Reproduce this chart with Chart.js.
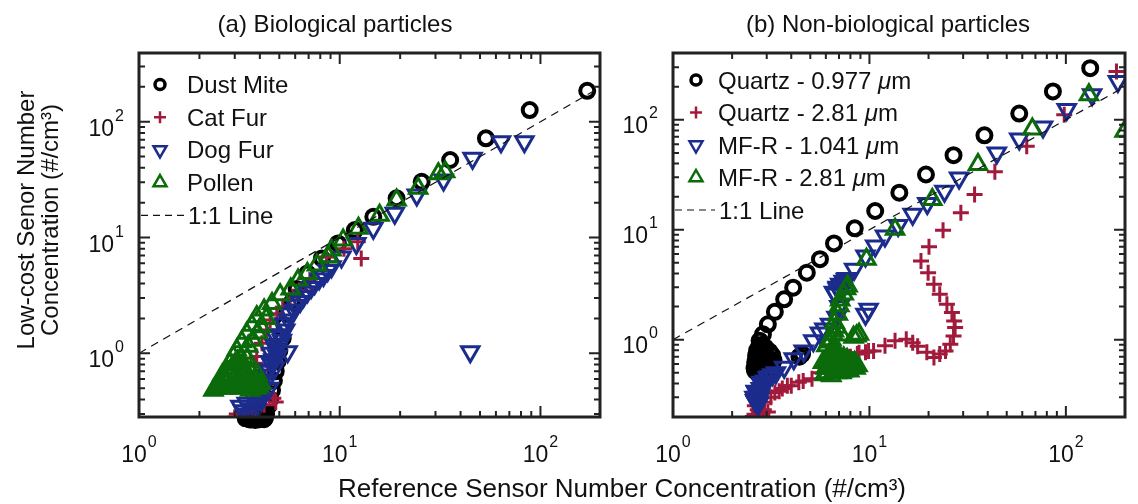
<!DOCTYPE html>
<html>
<head>
<meta charset="utf-8">
<script src="https://cdn.jsdelivr.net/npm/chart.js@4.4.0/dist/chart.umd.min.js"></script>
<style>
  html, body { margin: 0; padding: 0; background: #fff; }
  #wrap { position: relative; width: 1138px; height: 504px; }
  #wrap canvas { position: absolute; left: 0; top: 0; }
</style>
</head>
<body>
<div id="wrap">
  <canvas id="bioChart" width="1138" height="504"></canvas>
  <canvas id="nonBioChart" width="1138" height="504"></canvas>
</div>
<script>
// Low-cost sensor vs reference sensor number concentration (#/cm3)

// (a) biological particles
const dustMiteX = [3.4, 3.5, 3.55, 3.6, 3.65, 3.7, 3.75, 3.8, 3.85, 3.9, 3.95, 4.0, 4.05, 4.1, 4.15, 4.2, 4.25, 4.3, 3.6, 3.8, 4.0, 4.2, 3.7, 3.9, 4.4, 4.5, 4.6, 4.7, 4.8, 4.9, 5.0, 5.2, 5.3, 5.45, 5.8, 6.1, 6.9, 8.15, 9.8, 11.9, 14.7, 19.2, 25.6, 35.5, 53.5, 88.4, 171];
const dustMiteY = [0.275, 0.28, 0.27, 0.29, 0.275, 0.28, 0.27, 0.28, 0.275, 0.285, 0.27, 0.29, 0.28, 0.3, 0.285, 0.29, 0.28, 0.3, 0.268, 0.266, 0.27, 0.27, 0.31, 0.31, 0.35, 0.40, 0.48, 0.58, 0.70, 0.85, 1.05, 1.35, 1.75, 2.2, 2.8, 3.6, 4.9, 6.6, 8.9, 11.6, 15.1, 21.8, 30.3, 46.7, 71.9, 126, 185];

const catFurX = [3.0, 3.07, 3.3, 3.5, 3.8, 4.2, 4.67, 4.8, 4.4, 4.0, 3.6, 3.7, 4.0, 3.79, 3.86, 4.1, 4.33, 4.5, 4.86, 5.2, 5.66, 6.3, 7.1, 8.6, 10.5, 12.3, 12.8];
const catFurY = [0.28, 0.30, 0.27, 0.31, 0.33, 0.36, 0.41, 0.38, 0.45, 0.42, 0.5, 0.6, 0.7, 0.82, 0.94, 1.22, 1.59, 1.94, 2.2, 2.5, 2.9, 3.5, 4.15, 6.8, 8.0, 9.2, 6.6];

const dogFurX = [3.2, 3.3, 3.44, 3.5, 3.6, 3.72, 3.8, 3.9, 3.94, 4.0, 4.1, 4.17, 4.25, 4.3, 4.35, 4.42, 4.45, 4.5, 4.6, 4.55, 4.67, 4.7, 4.75, 4.8, 4.86, 4.9, 4.95, 5.05, 5.15, 5.3, 5.35, 5.55, 5.6, 5.9, 6.0, 6.35, 6.6, 6.9, 7.2, 7.5, 7.9, 8.3, 8.7, 9.1, 10.2, 12.1, 14.7, 18.8, 24.2, 32.9, 45.9, 63.6, 83.2, 5.5, 44.7];
const dogFurY = [0.35, 0.32, 0.37, 0.30, 0.33, 0.41, 0.32, 0.36, 0.48, 0.38, 0.45, 0.59, 0.55, 0.65, 0.7, 0.72, 0.5, 0.85, 0.8, 1.0, 0.88, 1.2, 0.75, 1.4, 1.07, 0.95, 1.15, 1.45, 1.30, 1.8, 1.59, 1.94, 2.2, 2.37, 2.6, 2.8, 3.1, 3.4, 3.7, 4.0, 4.4, 4.7, 5.2, 5.6, 6.8, 8.9, 12.0, 16.2, 23.3, 31.4, 48.3, 67.2, 67.2, 1.03, 1.03];

const pollenX = [2.35, 2.4, 2.45, 2.5, 2.54, 2.6, 2.65, 2.7, 2.75, 2.8, 2.9, 2.95, 3.0, 3.1, 3.15, 3.2, 3.25, 3.31, 3.4, 3.5, 3.55, 3.58, 3.65, 3.72, 3.8, 3.85, 3.94, 4.05, 3.3, 3.6, 3.9, 2.6, 2.75, 2.9, 3.0, 3.1, 3.2, 3.45, 2.84, 2.95, 3.07, 3.25, 3.35, 3.44, 3.5, 3.65, 3.7, 3.86, 3.9, 4.05, 4.2, 4.3, 4.6, 5.05, 5.7, 6.2, 6.9, 7.7, 8.8, 9.1, 10.4, 12.4, 15.8, 19.2, 24.6, 31, 33.5];
const pollenY = [0.48, 0.5, 0.52, 0.55, 0.57, 0.5, 0.6, 0.55, 0.58, 0.5, 0.52, 0.59, 0.62, 0.56, 0.6, 0.5, 0.55, 0.63, 0.52, 0.58, 0.62, 0.48, 0.66, 0.55, 0.6, 0.5, 0.52, 0.55, 0.75, 0.7, 0.65, 0.65, 0.7, 0.75, 0.8, 0.85, 0.9, 0.9, 0.82, 0.94, 1.07, 1.26, 1.0, 1.49, 1.15, 1.75, 1.3, 2.07, 1.5, 1.7, 2.37, 2.0, 2.7, 3.2, 3.6, 4.3, 4.9, 5.8, 6.8, 7.8, 9.5, 12.0, 15.6, 21.1, 26.6, 35.6, 37];

// (b) non-biological particles
const quartz977X = [2.6, 2.62, 2.62, 2.64, 2.66, 2.68, 2.7, 2.7, 2.72, 2.74, 2.75, 2.78, 2.8, 2.8, 2.82, 2.84, 2.88, 2.9, 2.9, 2.92, 2.98, 3.0, 3.0, 3.02, 3.1, 3.1, 3.15, 3.2, 3.25, 2.65, 2.85, 3.05, 2.7, 3.2, 2.95, 4.4, 4.54, 2.76, 2.87, 3.04, 3.30, 3.68, 4.09, 4.8, 5.6, 6.6, 8.42, 10.7, 14.2, 19.4, 26.8, 38.5, 57.9, 85.9, 133];
const quartz977Y = [0.55, 0.62, 0.52, 0.66, 0.58, 0.8, 0.6, 0.7, 0.55, 0.86, 0.65, 0.72, 0.58, 0.85, 0.66, 0.9, 0.56, 0.62, 0.8, 0.7, 0.6, 0.7, 0.55, 0.65, 0.58, 0.78, 0.62, 0.72, 0.65, 0.72, 0.78, 0.55, 0.5, 0.6, 0.85, 0.7, 0.74, 0.98, 1.12, 1.38, 1.79, 2.33, 2.97, 4.07, 5.4, 7.5, 10.3, 14.8, 21.7, 31.8, 47.6, 72.2, 114, 181, 295];

const quartz281X = [2.55, 2.6, 2.65, 2.7, 2.61, 2.75, 2.8, 2.7, 2.85, 2.9, 3.04, 2.92, 3.15, 3.3, 3.47, 3.6, 3.82, 4.0, 4.37, 4.6, 5.1, 5.6, 6.0, 6.5, 6.9, 7.3, 7.6, 8.0, 8.85, 9.9, 8.68, 9.55, 10.5, 12.0, 13.5, 15.4, 16.6, 17.6, 19.6, 21.3, 22.8, 24.4, 25.8, 26.8, 27.3, 27.0, 26.3, 24.8, 22.8, 21.3, 19.9, 18.3, 20.1, 23.7, 29.2, 34.3, 43.5, 63.2, 98.1, 181];
const quartz281Y = [0.2, 0.21, 0.19, 0.23, 0.25, 0.22, 0.2, 0.25, 0.21, 0.23, 0.22, 0.27, 0.30, 0.33, 0.34, 0.36, 0.38, 0.38, 0.41, 0.42, 0.44, 0.50, 0.52, 0.56, 0.58, 0.62, 0.66, 0.70, 0.76, 0.79, 0.74, 0.77, 0.79, 0.88, 0.98, 1.01, 0.94, 0.87, 0.77, 0.69, 0.74, 0.79, 0.91, 1.08, 1.29, 1.48, 1.77, 2.10, 2.59, 3.19, 4.07, 5.19, 7.0, 9.9, 14.3, 20.9, 33.6, 57.4, 111, 275];

const mfr1041X = [2.6, 2.62, 2.64, 2.65, 2.68, 2.7, 2.72, 2.74, 2.75, 2.78, 2.8, 2.66, 2.71, 2.81, 2.85, 2.9, 2.95, 3.04, 3.1, 3.2, 3.34, 3.68, 4.12, 4.63, 5.18, 5.6, 5.9, 6.3, 6.8, 7.03, 6.6, 6.7, 6.9, 6.9, 7.1, 7.2, 7.3, 7.4, 7.5, 7.0, 7.6, 7.7, 8.36, 9.55, 10.7, 12.0, 14.0, 16.6, 19.7, 24.1, 28.6, 44.5, 57.9, 76.5, 101, 136, 184, 9.9, 9.55];
const mfr1041Y = [0.30, 0.28, 0.34, 0.27, 0.30, 0.33, 0.26, 0.30, 0.29, 0.32, 0.36, 0.33, 0.27, 0.41, 0.38, 0.40, 0.42, 0.45, 0.46, 0.48, 0.50, 0.56, 0.67, 0.79, 0.98, 1.15, 1.25, 1.38, 1.6, 2.0, 2.7, 2.6, 2.9, 3.0, 3.2, 3.1, 2.9, 3.4, 3.3, 2.8, 3.54, 3.6, 4.36, 5.77, 7.1, 8.75, 10.9, 13.8, 17.3, 22.4, 29.6, 49.9, 66.9, 86, 124, 169, 223, 1.89, 1.70];

const mfr281X = [6.04, 5.8, 6.0, 6.1, 6.2, 6.3, 6.3, 6.4, 6.5, 6.6, 6.7, 6.8, 6.8, 6.9, 7.0, 7.1, 7.2, 7.2, 7.3, 7.4, 7.5, 7.6, 7.8, 7.8, 7.9, 8.0, 8.1, 8.2, 8.3, 8.4, 8.5, 8.7, 6.2, 6.5, 7.0, 7.4, 7.7, 5.9, 6.1, 6.4, 6.6, 6.2, 6.4, 6.6, 6.8, 7.2, 8.3, 6.52, 8.85, 8.6, 6.65, 6.9, 7.03, 7.1, 7.4, 7.6, 7.74, 9.66, 13.5, 20.9, 35.7, 67.5, 131, 199];
const mfr281Y = [0.88, 0.62, 0.55, 0.65, 0.6, 0.6, 0.7, 0.55, 0.65, 0.52, 0.6, 0.55, 0.5, 0.65, 0.55, 0.62, 0.58, 0.5, 0.52, 0.6, 0.53, 0.57, 0.6, 0.55, 0.52, 0.62, 0.56, 0.6, 0.57, 0.62, 0.55, 0.58, 0.72, 0.78, 0.72, 0.68, 0.66, 0.48, 0.5, 0.47, 0.82, 0.95, 1.0, 1.2, 1.3, 1.1, 1.05, 1.12, 1.12, 1.08, 1.43, 1.7, 2.03, 2.3, 2.6, 2.9, 3.08, 5.38, 10.1, 18.8, 39.1, 82.4, 169, 78.5];

// 1:1 reference line
const oneToOneX = [1, 200];
const oneToOneY = [1, 200];

// labelled decades on both axes
const decadeTicks = [1, 10, 100];

const BLACK = '#000000';
const RED = '#a11a3c';
const BLUE = '#1c2c8c';
const GREEN = '#0b6b0b';
const FONT = 'Arial, "Liberation Sans", sans-serif';

function toPoints(xs, ys) {
    return xs.map((x, i) => ({ x: x, y: ys[i] }));
}

function markerSet(label, xs, ys, kind, color, radius, width, order, clip) {
    return {
        label: label,
        data: toPoints(xs, ys),
        kind: kind,
        showLine: false,
        borderColor: color,
        pointStyle: kind === 'triangleDown' ? 'triangle' : kind,
        pointRotation: kind === 'triangleDown' ? 180 : 0,
        pointRadius: radius,
        pointBorderWidth: width,
        pointBorderColor: color,
        pointBackgroundColor: 'rgba(0,0,0,0)',
        order: order,
        clip: clip
    };
}

function lineSet() {
    return {
        label: '1:1 Line',
        data: toPoints(oneToOneX, oneToOneY),
        kind: 'dash',
        showLine: true,
        borderColor: '#111',
        borderWidth: 1.2,
        borderDash: [8, 6],
        pointRadius: 0,
        order: 0,
        clip: 0
    };
}

// small version of each marker for the legend
function drawMarker(ctx, kind, x, y, color) {
    ctx.save();
    ctx.strokeStyle = color;
    ctx.beginPath();
    if (kind === 'circle') {
        ctx.lineWidth = 3.5;
        ctx.arc(x, y, 5, 0, Math.PI * 2);
    } else if (kind === 'cross') {
        ctx.lineWidth = 2.5;
        ctx.moveTo(x - 6, y); ctx.lineTo(x + 6, y);
        ctx.moveTo(x, y - 6); ctx.lineTo(x, y + 6);
    } else {
        const r = 7.5, d = kind === 'triangleDown' ? -1 : 1;
        ctx.lineWidth = 2.5;
        ctx.moveTo(x, y - d * r);
        ctx.lineTo(x + 0.866 * r, y + d * r * 0.5);
        ctx.lineTo(x - 0.866 * r, y + d * r * 0.5);
        ctx.closePath();
    }
    ctx.stroke();
    ctx.restore();
}

function mantissa(v) {
    const e = Math.floor(Math.log10(v) + 1e-9);
    const m = v / Math.pow(10, e);
    const r = Math.round(m);
    if (Math.abs(m - r) > 1e-6 || r < 1 || r > 9) return 0;
    return r;
}

// "10" with a raised exponent, anchored by its centre or right edge
function drawPower(ctx, exp, x, y, align) {
    ctx.font = '23px ' + FONT;
    const baseW = ctx.measureText('10').width;
    ctx.font = '16px ' + FONT;
    const supW = ctx.measureText(String(exp)).width;
    const total = baseW + supW + 1;
    const left = align === 'right' ? x - total : x - total / 2;
    ctx.textAlign = 'left';
    ctx.textBaseline = 'alphabetic';
    ctx.font = '23px ' + FONT;
    ctx.fillText('10', left, y + 8);
    ctx.font = '16px ' + FONT;
    ctx.fillText(String(exp), left + baseW + 1, y - 7);
}

const axesFrame = {
    id: 'axesFrame',
    afterDraw(chart, args, opts) {
        const { ctx, chartArea: a } = chart;
        const xs = chart.scales.x, ys = chart.scales.y;
        ctx.save();
        ctx.fillStyle = '#111';
        ctx.strokeStyle = '#222';

        // inward ticks on all four sides
        ctx.lineWidth = 2;
        ctx.beginPath();
        xs.ticks.forEach(t => {
            const m = mantissa(t.value);
            if (!m) return;
            const px = xs.getPixelForValue(t.value);
            if (px < a.left + 2 || px > a.right - 2) return;
            const len = m === 1 ? 11 : 6;
            ctx.moveTo(px, a.bottom); ctx.lineTo(px, a.bottom - len);
            ctx.moveTo(px, a.top); ctx.lineTo(px, a.top + len);
        });
        ys.ticks.forEach(t => {
            const m = mantissa(t.value);
            if (!m) return;
            const py = ys.getPixelForValue(t.value);
            if (py < a.top + 2 || py > a.bottom - 2) return;
            const len = m === 1 ? 11 : 6;
            ctx.moveTo(a.left, py); ctx.lineTo(a.left + len, py);
            ctx.moveTo(a.right, py); ctx.lineTo(a.right - len, py);
        });
        ctx.stroke();

        ctx.lineWidth = 3;
        ctx.strokeRect(a.left, a.top, a.right - a.left, a.bottom - a.top);

        // decade labels
        decadeTicks.forEach(v => {
            const exp = Math.round(Math.log10(v));
            const px = xs.getPixelForValue(v);
            if (px >= a.left - 1 && px <= a.right + 1) drawPower(ctx, exp, px, a.bottom + 37, 'center');
            const py = ys.getPixelForValue(v);
            if (py >= a.top - 1 && py <= a.bottom + 1) drawPower(ctx, exp, a.left - 15, py + opts.yLabelShift, 'right');
        });

        // panel title
        ctx.font = '24px ' + FONT;
        ctx.textAlign = 'center';
        ctx.textBaseline = 'alphabetic';
        ctx.fillText(opts.title, opts.titleX, 32);

        // legend in the upper left corner
        const lg = opts.legend;
        chart.data.datasets.forEach((ds, i) => {
            const y = lg.y0 + i * lg.dy;
            if (ds.kind === 'dash') {
                ctx.save();
                ctx.strokeStyle = ds.borderColor;
                ctx.lineWidth = 1.2;
                ctx.setLineDash([7, 5]);
                ctx.beginPath();
                ctx.moveTo(a.left + 2, y);
                ctx.lineTo(a.left + lg.textX - 3, y);
                ctx.stroke();
                ctx.restore();
            } else {
                drawMarker(ctx, ds.kind, a.left + lg.markX, y, ds.borderColor);
            }
            // micro sign set in italics
            ctx.textAlign = 'left';
            let tx = a.left + lg.textX + (ds.kind === 'dash' ? 1 : 0);
            const parts = ds.label.split('μ');
            parts.forEach((p, k) => {
                if (k > 0) {
                    ctx.font = 'italic 24px ' + FONT;
                    ctx.fillText('μ', tx, y + 8.5);
                    tx += ctx.measureText('μ').width;
                }
                ctx.font = '24px ' + FONT;
                ctx.fillText(p, tx, y + 8.5);
                tx += ctx.measureText(p).width;
            });
        });
        ctx.restore();
    }
};

function logAxis(min, max) {
    return { type: 'logarithmic', min: min, max: max, display: false, ticks: { autoSkip: false } };
}

function makeChart(id, datasets, area, xMax, yMin, yMax, frame) {
    return new Chart(document.getElementById(id), {
        type: 'scatter',
        data: { datasets: datasets },
        options: {
            responsive: false,
            animation: false,
            devicePixelRatio: 1,
            events: [],
            layout: { padding: area },
            scales: { x: logAxis(1, xMax), y: logAxis(yMin, yMax) },
            plugins: {
                legend: { display: false },
                tooltip: { enabled: false },
                axesFrame: frame
            }
        },
        plugins: [axesFrame]
    });
}

// dust mite points may spill just below the bottom axis
makeChart('bioChart', [
    markerSet('Dust Mite', dustMiteX, dustMiteY, 'circle', BLACK, 7, 4, 4, { left: 0, top: 0, right: 0, bottom: 12 }),
    markerSet('Cat Fur', catFurX, catFurY, 'cross', RED, 8, 3, 3, 0),
    markerSet('Dog Fur', dogFurX, dogFurY, 'triangleDown', BLUE, 10, 3, 2, 0),
    markerSet('Pollen', pollenX, pollenY, 'triangle', GREEN, 10, 3, 1, 0),
    lineSet()
], { left: 139, top: 53, right: 538, bottom: 87 }, 198, 0.282, 392, {
    title: '(a) Biological particles', titleX: 335, yLabelShift: 6,
    legend: { y0: 84.5, dy: 32.7, markX: 21, textX: 48 }
});

makeChart('nonBioChart', [
    markerSet('Quartz - 0.977 μm', quartz977X, quartz977Y, 'circle', BLACK, 7, 4, 3, 0),
    markerSet('Quartz - 2.81 μm', quartz281X, quartz281Y, 'cross', RED, 8, 3, 4, 0),
    markerSet('MF-R - 1.041 μm', mfr1041X, mfr1041Y, 'triangleDown', BLUE, 10, 3, 2, 0),
    markerSet('MF-R - 2.81 μm', mfr281X, mfr281Y, 'triangle', GREEN, 10, 3, 1, 0),
    lineSet()
], { left: 673, top: 53, right: 1, bottom: 87 }, 200, 0.198, 405, {
    title: '(b) Non-biological particles', titleX: 888, yLabelShift: 5,
    legend: { y0: 80, dy: 32.5, markX: 23, textX: 45 }
});

// shared axis titles
(function () {
    const cv = document.getElementById('nonBioChart');
    const ctx = cv.getContext('2d');
    ctx.save();
    ctx.fillStyle = '#111';
    ctx.textBaseline = 'alphabetic';
    ctx.textAlign = 'center';
    ctx.font = '26px ' + FONT;
    ctx.fillText('Reference Sensor Number Concentration (#/cm³)', 622, 497);
    ctx.translate(0, 220);
    ctx.rotate(-Math.PI / 2);
    ctx.font = '24px ' + FONT;
    ctx.fillText('Low-cost Senor Number', 0, 34);
    ctx.fillText('Concentration (#/cm³)', 0, 58);
    ctx.restore();
})();
</script>
</body>
</html>
